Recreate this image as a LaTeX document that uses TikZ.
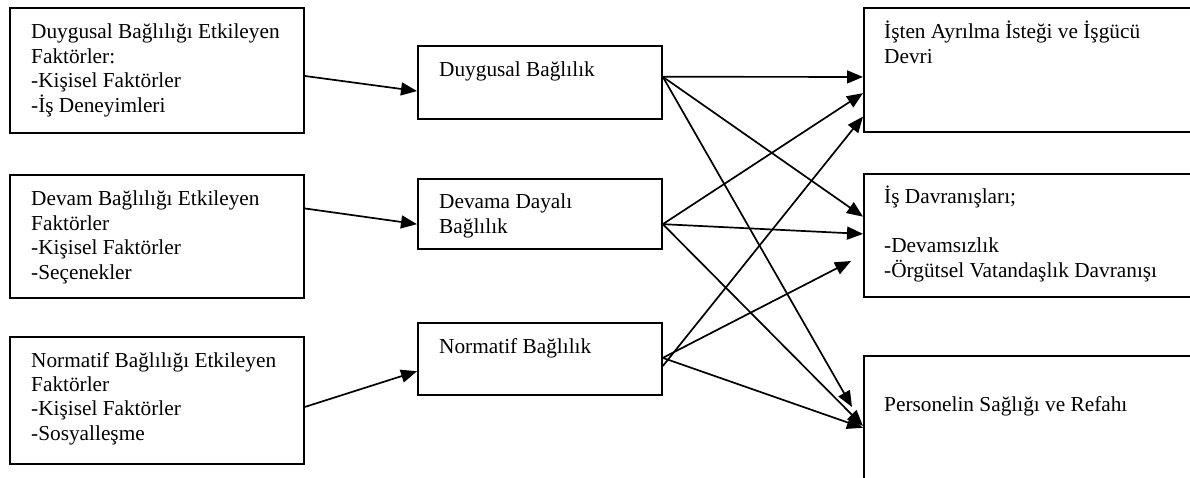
\documentclass[tikz,border=0pt]{standalone}
\usepackage{fontspec}
\setmainfont{Liberation Serif}
\usetikzlibrary{arrows.meta,calc}
\begin{document}
\begin{tikzpicture}[x=1pt,y=-1pt,
  box/.style={draw,line width=1.8pt,inner sep=0pt,anchor=north west},
  txt/.style={inner sep=0pt,anchor=base west,text width=#1,
    font=\fontsize{21.3}{24.4}\selectfont,
    execute at begin node={\spaceskip=0pt\xspaceskip=0pt}},
  arr/.style={line width=1.7pt,-{Triangle[length=16pt,width=13pt]}}]
\useasboundingbox (0,0) rectangle (1190,478);
\clip (0,0) rectangle (1190,478);
% left boxes
\node[box,minimum width=294pt,minimum height=125pt] (l1) at (9,7) {};
\node[box,minimum width=294pt,minimum height=123pt] (l2) at (9,174) {};
\node[box,minimum width=294pt,minimum height=127pt] (l3) at (9,336) {};
\node[txt=270pt] (lt1) at (31,39) {Duygusal Bağlılığı Etkileyen\\Faktörler:\\-Kişisel Faktörler\\-İş Deneyimleri};
\node[txt=270pt] (lt2) at (31,206) {Devam Bağlılığı Etkileyen\\Faktörler\\-Kişisel Faktörler\\-Seçenekler};
\node[txt=270pt] (lt3) at (31,367) {Normatif Bağlılığı Etkileyen\\Faktörler\\-Kişisel Faktörler\\-Sosyalleşme};
% middle boxes
\node[box,minimum width=244pt,minimum height=73pt] (m1) at (417,45) {};
\node[box,minimum width=244pt,minimum height=70pt] (m2) at (417,178) {};
\node[box,minimum width=244pt,minimum height=72pt] (m3) at (417,322) {};
\node[txt=220pt] (mt1) at (439,77) {Duygusal Bağlılık};
\node[txt=220pt] (mt2) at (439,209) {Devama Dayalı\\Bağlılık};
\node[txt=220pt] (mt3) at (439,353) {Normatif Bağlılık};
% right boxes
\node[box,minimum width=340pt,minimum height=124pt] (r1) at (863,7) {};
\node[box,minimum width=340pt,minimum height=123pt] (r2) at (863,173) {};
\node[box,minimum width=340pt,minimum height=143pt] (r3) at (863,355) {};
\node[txt=300pt] (rt1) at (884,39) {İşten Ayrılma İsteği ve İşgücü\\Devri};
\node[txt=300pt] (rt2) at (884,204) {İş Davranışları;\\[24.4pt]-Devamsızlık\\-Örgütsel Vatandaşlık Davranışı};
\node[txt=300pt] (rt3) at (884,411) {Personelin Sağlığı ve Refahı};
% free ends
\coordinate (e1) at (852,407);
\coordinate (e2) at (851,261);
% left -> middle
\draw[arr] ($(l1.north east)!0.544!(l1.south east)$) -- ($(m1.north west)!0.616!(m1.south west)$);
\draw[arr] ($(l2.north east)!0.276!(l2.south east)$) -- ($(m2.north west)!0.643!(m2.south west)$);
\draw[arr] ($(l3.north east)!0.551!(l3.south east)$) -- ($(m3.north west)!0.667!(m3.south west)$);
% middle 1
\draw[arr] ($(m1.north east)!0.425!(m1.south east)$) -- ($(r1.north west)!0.556!(r1.south west)$);
\draw[arr] ($(m1.north east)!0.425!(m1.south east)$) -- ($(r2.north west)!0.35!(r2.south west)$);
\draw[arr] ($(m1.north east)!0.425!(m1.south east)$) -- (e1);
% middle 2
\draw[arr] ($(m2.north east)!0.643!(m2.south east)$) -- ($(r1.north west)!0.685!(r1.south west)$);
\draw[arr] ($(m2.north east)!0.643!(m2.south east)$) -- ($(r2.north west)!0.488!(r2.south west)$);
\draw[arr] ($(m2.north east)!0.643!(m2.south east)$) -- ($(r3.north west)!0.49!(r3.south west)$);
% middle 3
\draw[arr] ($(m3.north east)!0.597!(m3.south east)$) -- ($(r1.north west)!0.871!(r1.south west)$);
\draw[arr] ($(m3.north east)!0.486!(m3.south east)$) -- (e2);
\draw[arr] ($(m3.north east)!0.486!(m3.south east)$) -- ($(r3.north west)!0.503!(r3.south west)$);
\end{tikzpicture}
\end{document}
